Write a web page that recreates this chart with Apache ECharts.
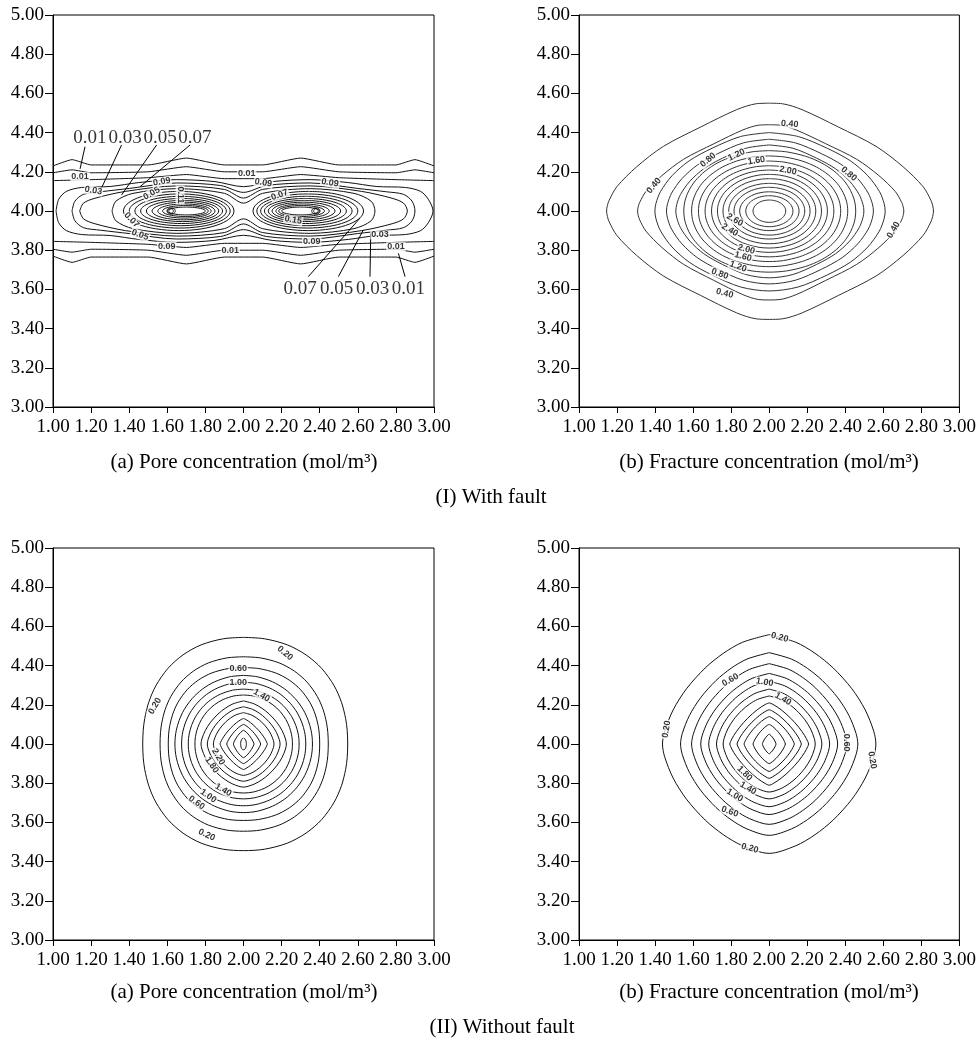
<!DOCTYPE html>
<html><head><meta charset="utf-8">
<script src="https://cdn.jsdelivr.net/npm/echarts/dist/echarts.min.js"></script>
<style>html,body{margin:0;padding:0;background:#fff}#c{width:979px;height:1040px}</style>
</head><body><div id="c"></div>
<script>
// ---------------- data ----------------
const xRange = [1.0, 3.0];
const yRange = [3.0, 5.0];
const tickStep = 0.2;
const center = [2.0, 4.0];

const captions = ['(a) Pore concentration (mol/m³)', '(b) Fracture concentration (mol/m³)'];
const rowTitles = ['(I) With fault', '(II) Without fault'];

// quarter outlines (east -> north), normalised
const tplLemon   = [[1,0],[0.995,0.05],[0.984,0.10],[0.937,0.225],[0.815,0.41],[0.65,0.6],[0.42,0.78],[0.2,0.94],[0.08,0.995],[0,1]];
const tplOval    = [[1,0],[0.99,0.1],[0.95,0.25],[0.85,0.45],[0.7,0.64],[0.5,0.8],[0.25,0.95],[0,1]];
const tplCirc    = [[1,0],[0.995,0.1],[0.98,0.199],[0.94,0.34],[0.866,0.5],[0.75,0.661],[0.6,0.8],[0.42,0.907],[0.2,0.98],[0,1]];
const tplRound   = [[1,0],[0.995,0.129],[0.98,0.24],[0.94,0.392],[0.87,0.546],[0.75,0.709],[0.6,0.836],[0.42,0.93],[0.2,0.987],[0,1]];
const tplDiamond = [[1,0],[0.98,0.06],[0.9,0.206],[0.75,0.408],[0.55,0.623],[0.3,0.835],[0.1,0.961],[0,1]];
const tplSoft    = [[1,0],[0.98,0.116],[0.9,0.312],[0.775,0.505],[0.6,0.695],[0.43,0.829],[0.25,0.93],[0,1]];

// Panel I(b) fracture, with fault: half-widths left/right, half-heights top/bottom
const fracFaultA = [0.855,0.692,0.601,0.540,0.491,0.449,0.408,0.372,0.337,0.303,0.272,0.243,0.213,0.185,0.155,0.123,0.085];
const fracFaultAR= [0.864,0.708,0.610,0.548,0.498,0.455,0.413,0.376,0.340,0.306,0.275,0.245,0.215,0.187,0.157,0.125,0.087];
const fracFaultBT= [0.550,0.440,0.400,0.366,0.337,0.308,0.281,0.255,0.231,0.209,0.187,0.165,0.141,0.121,0.098,0.078,0.056];
const fracFaultBB= [0.553,0.454,0.408,0.372,0.341,0.312,0.284,0.258,0.234,0.211,0.189,0.167,0.143,0.123,0.100,0.080,0.058];
const fracFaultTpl=['lemon','lemon','oval','oval','oval','circ','circ','circ','circ','circ','circ','circ','circ','circ','circ','circ','circ'];

// Panel II(a) pore, no fault
const poreNoA  = [0.529,0.438,0.395,0.360,0.325,0.290,0.255,0.223,0.190,0.158,0.123,0.088,0.053,0.015];
const poreNoAR = [0.547,0.445,0.400,0.362,0.327,0.292,0.257,0.225,0.192,0.160,0.125,0.090,0.055,0.015];
const poreNoB  = [0.544,0.445,0.390,0.350,0.315,0.280,0.250,0.220,0.190,0.160,0.130,0.100,0.070,0.030];
const poreNoTpl= ['round','round','round','circ','circ','circ','circ','soft','soft','soft','diamond','diamond','diamond','circ'];

// Panel II(b) fracture, no fault
const fracNoA  = [0.561,0.466,0.408,0.360,0.318,0.277,0.242,0.207,0.169,0.132,0.085,0.036];
const fracNoB  = [0.558,0.466,0.410,0.360,0.320,0.280,0.245,0.210,0.175,0.140,0.100,0.050];
const fracNoTpl= ['soft','soft','soft','soft','soft','soft','soft','diamond','diamond','diamond','diamond','diamond'];

// Panel I(a) pore, with fault: open contour lines (upper branch; lower is mirrored about y=4)
const poreFaultOpen = [
  [[1.0,4.23],[1.1,4.262],[1.2,4.235],[1.5,4.235],[1.7,4.27],[1.9,4.235],[2.1,4.235],[2.3,4.27],[2.5,4.235],[2.8,4.235],[2.9,4.262],[3.0,4.23]],
  [[1.0,4.195],[1.1,4.21],[1.2,4.195],[1.5,4.2],[1.7,4.226],[1.9,4.2],[2.1,4.2],[2.3,4.226],[2.5,4.2],[2.8,4.195],[2.9,4.21],[3.0,4.195]],
  [[1.0,4.155],[1.2,4.16],[1.5,4.17],[1.7,4.186],[1.9,4.165],[2.1,4.165],[2.3,4.186],[2.5,4.17],[2.8,4.16],[3.0,4.155]]
];
// closed contours around both peaks (upper half, left end -> right end)
const poreFaultClosed = [
  [[1.016,4.0],[1.03,4.06],[1.07,4.1],[1.15,4.12],[1.3,4.125],[1.45,4.145],[1.65,4.16],[1.85,4.15],[2.0,4.124],[2.15,4.15],[2.35,4.16],[2.55,4.145],[2.7,4.125],[2.85,4.12],[2.93,4.1],[2.97,4.06],[2.995,4.0]],
  [[1.10,4.0],[1.115,4.05],[1.16,4.085],[1.25,4.098],[1.4,4.115],[1.65,4.143],[1.88,4.13],[2.0,4.095],[2.12,4.13],[2.35,4.143],[2.6,4.115],[2.75,4.098],[2.84,4.085],[2.885,4.05],[2.9,4.0]],
  [[1.14,4.0],[1.16,4.04],[1.22,4.065],[1.38,4.1],[1.65,4.128],[1.9,4.11],[2.0,4.066],[2.1,4.11],[2.35,4.128],[2.62,4.1],[2.78,4.065],[2.84,4.04],[2.86,4.0]],
  [[1.31,4.0],[1.33,4.05],[1.42,4.09],[1.65,4.114],[1.9,4.09],[2.0,4.04],[2.1,4.09],[2.35,4.114],[2.58,4.09],[2.67,4.05],[2.69,4.0]]
];
// rings around the left peak: [x left, x right, half-height]; the right peak is the mirror image
const poreFaultRings = [[1.37,1.95,0.100],[1.40,1.93,0.087],[1.43,1.91,0.075],[1.46,1.89,0.064],[1.49,1.87,0.054],
  [1.52,1.85,0.045],[1.55,1.83,0.036],[1.575,1.815,0.028],[1.60,1.80,0.020]];
const poreFaultTiny  = [[1.62,0.012,0.012],[1.62,0.022,0.016]];

// contour labels: [x, y, text, rotation]
const lblPoreFault = [[1.142,4.175,'0.01',0],[1.212,4.104,'0.03',-10],[1.571,4.15,'0.09',10],[1.518,4.09,'0.05',30],[1.667,4.082,'0.11',-90],
  [1.413,3.954,'0.07',-45],[1.457,3.878,'0.05',-20],[1.597,3.821,'0.09',0],[1.93,3.80,'0.01',0],[2.017,4.192,'0.01',0],
  [2.104,4.144,'0.09',-10],[2.19,4.082,'0.07',20],[2.454,4.144,'0.09',-10],[2.261,3.954,'0.15',-10],[2.358,3.843,'0.09',0],
  [2.717,3.878,'0.03',0],[2.80,3.818,'0.01',0]];
const lblFracFault = [[2.108,4.444,'0.40',-5],[1.679,4.26,'0.80',40],[1.828,4.286,'1.20',25],[1.933,4.257,'1.60',10],[2.099,4.206,'2.00',-10],
  [2.419,4.189,'0.80',-40],[1.394,4.129,'0.40',50],[2.654,3.903,'0.40',60],[1.819,3.954,'2.60',-30],[1.793,3.903,'2.40',-30],
  [1.88,3.804,'2.00',-15],[1.863,3.767,'1.60',-15],[1.836,3.716,'1.20',-20],[1.74,3.679,'0.80',-20],[1.766,3.58,'0.40',-15]];
const lblPoreNo = [[2.218,4.463,'0.20',-40],[1.973,4.386,'0.60',0],[1.973,4.315,'1.00',0],[2.095,4.247,'1.40',-30],[1.535,4.194,'0.20',60],
  [1.868,3.935,'2.20',-60],[1.833,3.893,'1.80',-55],[1.894,3.765,'1.40',-30],[1.815,3.735,'1.00',-35],[1.754,3.70,'0.60',-35],[1.807,3.536,'0.20',-25]];
const lblFracNo = [[2.055,4.544,'0.20',-15],[1.796,4.327,'0.60',30],[1.976,4.315,'1.00',-10],[2.073,4.23,'1.40',-30],[1.46,4.075,'0.20',80],
  [2.408,4.007,'0.60',-90],[2.542,3.918,'0.20',-80],[1.871,3.85,'1.80',-45],[1.889,3.774,'1.40',-30],[1.819,3.738,'1.00',-30],
  [1.793,3.655,'0.60',-20],[1.898,3.468,'0.20',-15]];

// call-out annotations in I(a): [text x, text y, text, arrow from x, y, to x, y]
const calloutTop = [[1.194,4.372,'0.01',1.168,4.328,1.142,4.215],[1.378,4.372,'0.03',1.36,4.337,1.256,4.12],
  [1.562,4.372,'0.05',1.544,4.337,1.36,4.082],[1.745,4.372,'0.07',1.72,4.337,1.457,4.124]];
const calloutBot = [[2.297,3.60,'0.07',2.34,3.665,2.611,3.963],[2.489,3.60,'0.05',2.498,3.665,2.629,3.903],
  [2.678,3.60,'0.03',2.664,3.665,2.668,3.886],[2.865,3.60,'0.01',2.848,3.665,2.813,3.784]];

// ---------------- build ----------------
const TPL = {lemon:tplLemon, oval:tplOval, circ:tplCirc, round:tplRound, diamond:tplDiamond, soft:tplSoft};
function ringPoints(cx, cy, aL, aR, bB, bT, name) {
  const q = TPL[name], p = [];
  for (let i = q.length - 1; i >= 0; i--) p.push([cx + q[i][0]*aR, cy + q[i][1]*bT]);
  for (let i = 1; i < q.length; i++) p.push([cx + q[i][0]*aR, cy - q[i][1]*bB]);
  for (let i = q.length - 2; i >= 0; i--) p.push([cx - q[i][0]*aL, cy - q[i][1]*bB]);
  for (let i = 1; i < q.length; i++) p.push([cx - q[i][0]*aL, cy + q[i][1]*bT]);
  return p;
}
function mirror(pts) { return pts.map(p => [p[0], 2*center[1] - p[1]]); }
function closedFromUpper(up) {
  const low = mirror(up).slice(1, -1).reverse();
  return up.concat(low, [up[0]]);
}
const series = [];
function addLine(g, pts, smooth, color) {
  series.push({type:'line', xAxisIndex:g, yAxisIndex:g, data:pts, symbol:'none', smooth:smooth,
    lineStyle:{color:color || '#111', width:1}, silent:true, animation:false, z:2});
}
function addLabels(g, arr) {
  series.push({type:'scatter', xAxisIndex:g, yAxisIndex:g, symbolSize:1, itemStyle:{color:'rgba(0,0,0,0)'}, z:5, silent:true, animation:false,
    data: arr.map(l => ({value:[l[0], l[1]], label:{show:true, position:'inside', formatter:l[2], rotate:l[3],
      fontFamily:'Liberation Sans, Arial', fontWeight:'bold', fontSize:9, color:'#000', backgroundColor:'#fff', padding:[0,1]}}))});
}
// I(a)
poreFaultOpen.forEach(l => { addLine(0, l, 0.15); addLine(0, mirror(l), 0.15); });
poreFaultClosed.forEach(l => addLine(0, closedFromUpper(l), 0.3));
poreFaultRings.forEach(r => {
  const cxL = (r[0] + r[1]) / 2, a = (r[1] - r[0]) / 2;
  addLine(0, ringPoints(cxL, center[1], a, a, r[2], r[2], 'circ'), 0.3);
  addLine(0, ringPoints(2*center[0] - cxL, center[1], a, a, r[2], r[2], 'circ'), 0.3);
});
poreFaultTiny.forEach(t => {
  addLine(0, ringPoints(t[0], center[1], t[1], t[1], t[2], t[2], 'circ'), 0.3);
  addLine(0, ringPoints(2*center[0]-t[0], center[1], t[1], t[1], t[2], t[2], 'circ'), 0.3);
});
addLabels(0, lblPoreFault);
// I(b)
fracFaultA.forEach((a, i) => addLine(1, ringPoints(center[0], center[1], a, fracFaultAR[i], fracFaultBB[i], fracFaultBT[i], fracFaultTpl[i]), 0.3, '#333'));
addLabels(1, lblFracFault);
// II(a)
poreNoA.forEach((a, i) => addLine(2, ringPoints(center[0], center[1], a, poreNoAR[i], poreNoB[i], poreNoB[i], poreNoTpl[i]), 0.3));
addLabels(2, lblPoreNo);
// II(b)
fracNoA.forEach((a, i) => addLine(3, ringPoints(center[0], center[1], a, a, fracNoB[i], fracNoB[i], fracNoTpl[i]), 0.3));
addLabels(3, lblFracNo);
// call-outs
const callouts = calloutTop.concat(calloutBot);
series.push({type:'scatter', xAxisIndex:0, yAxisIndex:0, symbolSize:1, itemStyle:{color:'rgba(0,0,0,0)'}, z:6, silent:true, animation:false,
  data: callouts.map(c => ({value:[c[0], c[1]], label:{show:true, position:'inside', formatter:c[2],
    fontFamily:'Liberation Serif', fontSize:19, color:'#000'}})),
  markLine:{silent:true, animation:false, symbol:['none','arrow'], symbolSize:[0,6], label:{show:false},
    lineStyle:{color:'#000', width:1, type:'solid'},
    data: callouts.map(c => [{coord:[c[3], c[4]]}, {coord:[c[5], c[6]]}])}});

const gridPos = [[53,15],[579,15],[53,548],[579,548]];
const grids = gridPos.map(p => ({left:p[0], top:p[1], width:381, height:392, show:true, borderColor:'#000', borderWidth:1, containLabel:false}));
const axisFont = {fontFamily:'Liberation Serif', fontSize:19, color:'#000'};
const xAxes = gridPos.map((p, i) => ({type:'value', gridIndex:i, min:xRange[0], max:xRange[1], interval:tickStep,
  axisLine:{show:true, lineStyle:{color:'#000', width:1}}, axisTick:{show:true, length:6, lineStyle:{color:'#000'}},
  splitLine:{show:false}, axisLabel:Object.assign({margin:11, formatter:v => v.toFixed(2)}, axisFont)}));
const yAxes = gridPos.map((p, i) => ({type:'value', gridIndex:i, min:yRange[0], max:yRange[1], interval:tickStep,
  axisLine:{show:true, lineStyle:{color:'#000', width:1}}, axisTick:{show:true, length:8, lineStyle:{color:'#000'}},
  splitLine:{show:false}, axisLabel:Object.assign({margin:9, formatter:v => v.toFixed(2)}, axisFont)}));

const textFont = '21px "Liberation Serif"';
const graphic = [
  {type:'text', x:244, y:462, style:{text:captions[0], font:textFont, fill:'#000', align:'center', verticalAlign:'middle'}},
  {type:'text', x:769, y:462, style:{text:captions[1], font:textFont, fill:'#000', align:'center', verticalAlign:'middle'}},
  {type:'text', x:491, y:497, style:{text:rowTitles[0], font:textFont, fill:'#000', align:'center', verticalAlign:'middle'}},
  {type:'text', x:244, y:992, style:{text:captions[0], font:textFont, fill:'#000', align:'center', verticalAlign:'middle'}},
  {type:'text', x:769, y:992, style:{text:captions[1], font:textFont, fill:'#000', align:'center', verticalAlign:'middle'}},
  {type:'text', x:502, y:1027, style:{text:rowTitles[1], font:textFont, fill:'#000', align:'center', verticalAlign:'middle'}}
];

const chart = echarts.init(document.getElementById('c'), null, {renderer:'canvas'});
chart.setOption({animation:false, backgroundColor:'#fff', grid:grids, xAxis:xAxes, yAxis:yAxes, series:series, graphic:graphic});
</script>
</body></html>
